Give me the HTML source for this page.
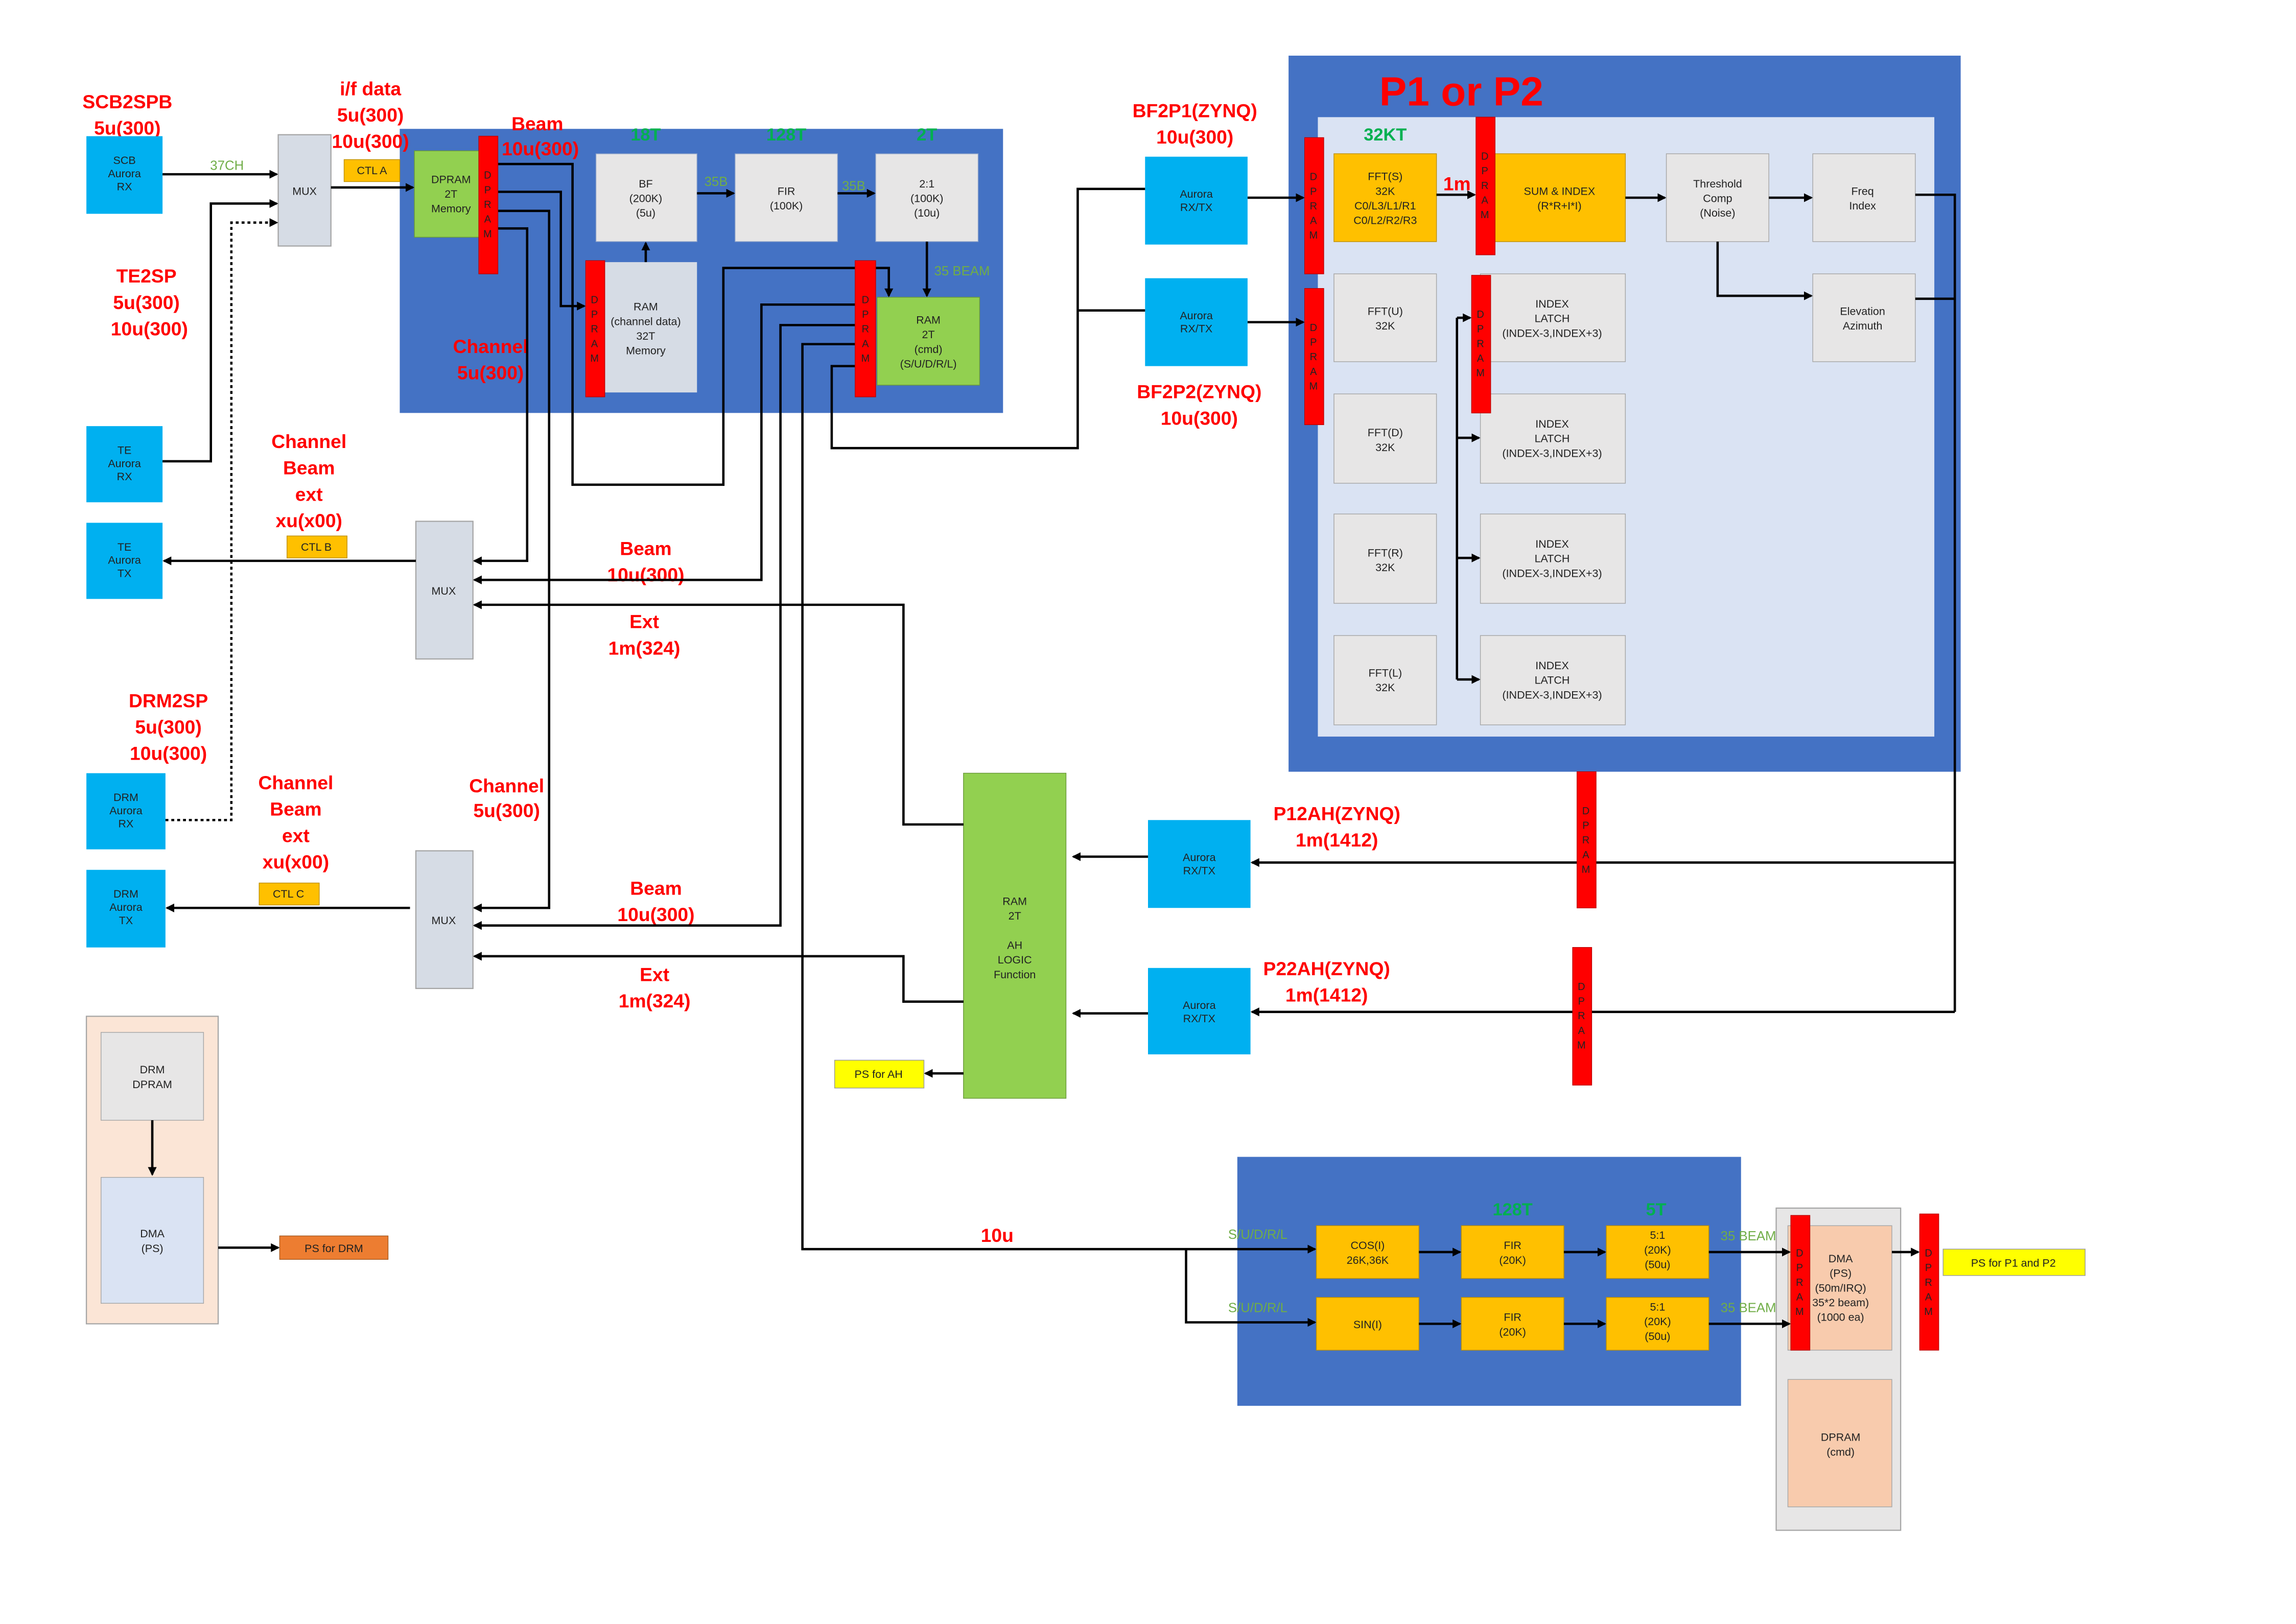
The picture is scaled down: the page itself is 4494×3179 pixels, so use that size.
<!DOCTYPE html>
<html><head><meta charset="utf-8"><style>
html,body{margin:0;padding:0;background:#fff}
svg{display:block}
text{font-family:"Liberation Sans","Noto Sans CJK KR",sans-serif}
.r{fill:#ff0000;font-weight:bold;font-size:13px;text-anchor:middle}
.g{fill:#00b050;font-weight:bold;font-size:12px;text-anchor:middle}
.g2{fill:#70ad47;font-size:9px;text-anchor:middle}
.s{font-size:7.5px;text-anchor:middle;fill:#222}
.ln{stroke:#000;stroke-width:1.6;fill:none}
</style></head><body>
<svg width="4494" height="3179" viewBox="0 0 1568 1109" preserveAspectRatio="none" xmlns="http://www.w3.org/2000/svg">
<defs><marker id="a" markerWidth="6" markerHeight="6" refX="5" refY="3" orient="auto" markerUnits="userSpaceOnUse"><path d="M0,0 L6,3 L0,6z" fill="#000"/></marker></defs>
<rect width="1568" height="1109" fill="#fff"/>

<rect x="273" y="88" width="412" height="194" fill="#4472c4"/>
<rect x="880" y="38" width="459" height="489" fill="#4472c4"/>
<rect x="900" y="80" width="421" height="423" fill="#dae3f3"/>
<rect x="845" y="790" width="344" height="170" fill="#4472c4"/>

<text class="r" x="87" y="74">SCB2SPB</text><text class="r" x="87" y="92">5u(300)</text>
<text class="r" x="253" y="65">i/f data</text><text class="r" x="253" y="83">5u(300)</text><text class="r" x="253" y="101">10u(300)</text>
<text class="r" x="367" y="89">Beam</text><text class="r" x="369" y="106">10u(300)</text>
<text class="r" x="100" y="193">TE2SP</text><text class="r" x="100" y="211">5u(300)</text><text class="r" x="102" y="229">10u(300)</text>
<text class="r" x="335" y="241">Channel</text><text class="r" x="335" y="259">5u(300)</text>
<text class="r" x="211" y="306">Channel</text><text class="r" x="211" y="324">Beam</text><text class="r" x="211" y="342">ext</text><text class="r" x="211" y="360">xu(x00)</text>
<text class="r" x="441" y="379">Beam</text><text class="r" x="441" y="397">10u(300)</text>
<text class="r" x="440" y="429">Ext</text><text class="r" x="440" y="447">1m(324)</text>
<text class="r" x="115" y="483">DRM2SP</text><text class="r" x="115" y="501">5u(300)</text><text class="r" x="115" y="519">10u(300)</text>
<text class="r" x="202" y="539">Channel</text><text class="r" x="202" y="557">Beam</text><text class="r" x="202" y="575">ext</text><text class="r" x="202" y="593">xu(x00)</text>
<text class="r" x="346" y="541">Channel</text><text class="r" x="346" y="558">5u(300)</text>
<text class="r" x="448" y="611">Beam</text><text class="r" x="448" y="629">10u(300)</text>
<text class="r" x="447" y="670">Ext</text><text class="r" x="447" y="688">1m(324)</text>
<text class="r" x="681" y="848">10u</text>
<text class="r" x="816" y="80">BF2P1(ZYNQ)</text><text class="r" x="816" y="98">10u(300)</text>
<text class="r" x="819" y="272">BF2P2(ZYNQ)</text><text class="r" x="819" y="290">10u(300)</text>
<text class="r" x="913" y="560">P12AH(ZYNQ)</text><text class="r" x="913" y="578">1m(1412)</text>
<text class="r" x="906" y="666">P22AH(ZYNQ)</text><text class="r" x="906" y="684">1m(1412)</text>
<text class="r" x="998" y="72" style="font-size:28px">P1 or P2</text>
<text class="r" x="995" y="130">1m</text>

<text class="g" x="441" y="96">18T</text><text class="g" x="537" y="96">128T</text><text class="g" x="633" y="96">2T</text>
<text class="g" x="946" y="96">32KT</text>
<text class="g" x="1033" y="830">128T</text><text class="g" x="1131" y="830">5T</text>
<text class="g2" x="155" y="116">37CH</text>
<text class="g2" x="489" y="127">35B</text><text class="g2" x="583" y="130">35B</text>
<text class="g2" x="657" y="188">35 BEAM</text>
<text class="g2" x="859" y="846">S/U/D/R/L</text><text class="g2" x="859" y="896">S/U/D/R/L</text>
<text class="g2" x="1194" y="847">35 BEAM</text><text class="g2" x="1194" y="896">35 BEAM</text>

<g fill="#00b0f0">
<rect x="59" y="93" width="52" height="53"/><rect x="59" y="291" width="52" height="52"/><rect x="59" y="357" width="52" height="52"/>
<rect x="59" y="528" width="54" height="52"/><rect x="59" y="594" width="54" height="53"/>
<rect x="782" y="107" width="70" height="60"/><rect x="782" y="190" width="70" height="60"/>
<rect x="784" y="560" width="70" height="60"/><rect x="784" y="661" width="70" height="59"/>
</g>
<text class="s"><tspan x="85" y="112">SCB</tspan><tspan x="85" y="121">Aurora</tspan><tspan x="85" y="130">RX</tspan></text>
<text class="s"><tspan x="85" y="310">TE</tspan><tspan x="85" y="319">Aurora</tspan><tspan x="85" y="328">RX</tspan></text>
<text class="s"><tspan x="85" y="376">TE</tspan><tspan x="85" y="385">Aurora</tspan><tspan x="85" y="394">TX</tspan></text>
<text class="s"><tspan x="86" y="547">DRM</tspan><tspan x="86" y="556">Aurora</tspan><tspan x="86" y="565">RX</tspan></text>
<text class="s"><tspan x="86" y="613">DRM</tspan><tspan x="86" y="622">Aurora</tspan><tspan x="86" y="631">TX</tspan></text>
<text class="s"><tspan x="817" y="135">Aurora</tspan><tspan x="817" y="144">RX/TX</tspan></text>
<text class="s"><tspan x="817" y="218">Aurora</tspan><tspan x="817" y="227">RX/TX</tspan></text>
<text class="s"><tspan x="819" y="588">Aurora</tspan><tspan x="819" y="597">RX/TX</tspan></text>
<text class="s"><tspan x="819" y="689">Aurora</tspan><tspan x="819" y="698">RX/TX</tspan></text>

<g fill="#d6dce5" stroke="#a6a6a6" stroke-width="0.8">
<rect x="190" y="92" width="36" height="76"/><rect x="284" y="356" width="39" height="94"/><rect x="284" y="581" width="39" height="94"/>
</g>
<text class="s" x="208" y="133">MUX</text><text class="s" x="303" y="406">MUX</text><text class="s" x="303" y="631">MUX</text>

<g fill="#ffc000" stroke="#bf9000" stroke-width="0.5">
<rect x="235" y="109" width="38" height="15"/><rect x="196" y="366" width="41" height="15"/><rect x="177" y="603" width="41" height="15"/>
</g>
<text class="s" x="254" y="119">CTL A</text><text class="s" x="216" y="376">CTL B</text><text class="s" x="197" y="613">CTL C</text>

<rect x="283" y="103" width="44" height="59" fill="#92d050" stroke="#6a9a3a" stroke-width="0.5"/>
<text class="s"><tspan x="308" y="125">DPRAM</tspan><tspan x="308" y="135">2T</tspan><tspan x="308" y="145">Memory</tspan></text>
<g fill="#e7e6e6" stroke="#8aa0c8" stroke-width="0.5">
<rect x="407" y="105" width="69" height="60"/><rect x="502" y="105" width="70" height="60"/><rect x="598" y="105" width="70" height="60"/>
</g>
<text class="s"><tspan x="441" y="128">BF</tspan><tspan x="441" y="138">(200K)</tspan><tspan x="441" y="148">(5u)</tspan></text>
<text class="s"><tspan x="537" y="133">FIR</tspan><tspan x="537" y="143">(100K)</tspan></text>
<text class="s"><tspan x="633" y="128">2:1</tspan><tspan x="633" y="138">(100K)</tspan><tspan x="633" y="148">(10u)</tspan></text>
<rect x="413" y="179" width="63" height="89" fill="#d6dce5"/>
<text class="s"><tspan x="441" y="212">RAM</tspan><tspan x="441" y="222">(channel data)</tspan><tspan x="441" y="232">32T</tspan><tspan x="441" y="242">Memory</tspan></text>
<rect x="599" y="203" width="70" height="60" fill="#92d050" stroke="#6a9a3a" stroke-width="0.5"/>
<text class="s"><tspan x="634" y="221">RAM</tspan><tspan x="634" y="231">2T</tspan><tspan x="634" y="241">(cmd)</tspan><tspan x="634" y="251">(S/U/D/R/L)</tspan></text>

<g fill="#ffc000" stroke="#bf9000" stroke-width="0.5">
<rect x="911" y="105" width="70" height="60"/><rect x="1021" y="105" width="89" height="60"/>
<rect x="899" y="837" width="70" height="36"/><rect x="998" y="837" width="70" height="36"/><rect x="1097" y="837" width="70" height="36"/>
<rect x="899" y="886" width="70" height="36"/><rect x="998" y="886" width="70" height="36"/><rect x="1097" y="886" width="70" height="36"/>
</g>
<text class="s"><tspan x="946" y="123">FFT(S)</tspan><tspan x="946" y="133">32K</tspan><tspan x="946" y="143">C0/L3/L1/R1</tspan><tspan x="946" y="153">C0/L2/R2/R3</tspan></text>
<text class="s"><tspan x="1065" y="133">SUM &amp; INDEX</tspan><tspan x="1065" y="143">(R*R+I*I)</tspan></text>
<g fill="#e7e6e6" stroke="#a6a6a6" stroke-width="0.5">
<rect x="1138" y="105" width="70" height="60"/><rect x="1238" y="105" width="70" height="60"/><rect x="1238" y="187" width="70" height="60"/>
<rect x="911" y="187" width="70" height="60"/><rect x="911" y="269" width="70" height="61"/><rect x="911" y="351" width="70" height="61"/><rect x="911" y="434" width="70" height="61"/>
<rect x="1011" y="187" width="99" height="60"/><rect x="1011" y="269" width="99" height="61"/><rect x="1011" y="351" width="99" height="61"/><rect x="1011" y="434" width="99" height="61"/>
</g>
<text class="s"><tspan x="1173" y="128">Threshold</tspan><tspan x="1173" y="138">Comp</tspan><tspan x="1173" y="148">(Noise)</tspan></text>
<text class="s"><tspan x="1272" y="133">Freq</tspan><tspan x="1272" y="143">Index</tspan></text>
<text class="s"><tspan x="1272" y="215">Elevation</tspan><tspan x="1272" y="225">Azimuth</tspan></text>
<text class="s"><tspan x="946" y="215">FFT(U)</tspan><tspan x="946" y="225">32K</tspan></text>
<text class="s"><tspan x="946" y="298">FFT(D)</tspan><tspan x="946" y="308">32K</tspan></text>
<text class="s"><tspan x="946" y="380">FFT(R)</tspan><tspan x="946" y="390">32K</tspan></text>
<text class="s"><tspan x="946" y="462">FFT(L)</tspan><tspan x="946" y="472">32K</tspan></text>
<g class="s">
<text><tspan x="1060" y="210">INDEX</tspan><tspan x="1060" y="220">LATCH</tspan><tspan x="1060" y="230">(INDEX-3,INDEX+3)</tspan></text>
<text><tspan x="1060" y="292">INDEX</tspan><tspan x="1060" y="302">LATCH</tspan><tspan x="1060" y="312">(INDEX-3,INDEX+3)</tspan></text>
<text><tspan x="1060" y="374">INDEX</tspan><tspan x="1060" y="384">LATCH</tspan><tspan x="1060" y="394">(INDEX-3,INDEX+3)</tspan></text>
<text><tspan x="1060" y="457">INDEX</tspan><tspan x="1060" y="467">LATCH</tspan><tspan x="1060" y="477">(INDEX-3,INDEX+3)</tspan></text>
</g>

<rect x="658" y="528" width="70" height="222" fill="#92d050" stroke="#6a9a3a" stroke-width="0.5"/>
<text class="s"><tspan x="693" y="618">RAM</tspan><tspan x="693" y="628">2T</tspan><tspan x="693" y="648">AH</tspan><tspan x="693" y="658">LOGIC</tspan><tspan x="693" y="668">Function</tspan></text>
<rect x="570" y="724" width="61" height="19" fill="#ffff00" stroke="#999" stroke-width="0.5"/>
<text class="s" x="600" y="736">PS for AH</text>

<rect x="59" y="694" width="90" height="210" fill="#fbe5d6" stroke="#a6a6a6" stroke-width="0.8"/>
<rect x="69" y="705" width="70" height="60" fill="#e7e6e6" stroke="#a6a6a6" stroke-width="0.5"/>
<text class="s"><tspan x="104" y="733">DRM</tspan><tspan x="104" y="743">DPRAM</tspan></text>
<rect x="69" y="804" width="70" height="86" fill="#dae3f3" stroke="#a6a6a6" stroke-width="0.5"/>
<text class="s"><tspan x="104" y="845">DMA</tspan><tspan x="104" y="855">(PS)</tspan></text>
<rect x="191" y="844" width="74" height="16" fill="#ed7d31" stroke="#a65a20" stroke-width="0.5"/>
<text class="s" x="228" y="855">PS for DRM</text>

<rect x="1213" y="825" width="85" height="220" fill="#e7e6e6" stroke="#a6a6a6" stroke-width="0.8"/>
<rect x="1221" y="837" width="71" height="85" fill="#f8cbad" stroke="#a6a6a6" stroke-width="0.5"/>
<rect x="1221" y="942" width="71" height="87" fill="#f8cbad" stroke="#a6a6a6" stroke-width="0.5"/>
<text class="s"><tspan x="1257" y="862">DMA</tspan><tspan x="1257" y="872">(PS)</tspan><tspan x="1257" y="882">(50m/IRQ)</tspan><tspan x="1257" y="892">35*2 beam)</tspan><tspan x="1257" y="902">(1000 ea)</tspan></text>
<text class="s"><tspan x="1257" y="984">DPRAM</tspan><tspan x="1257" y="994">(cmd)</tspan></text>
<rect x="1327" y="853" width="97" height="18" fill="#ffff00" stroke="#999" stroke-width="0.5"/>
<text class="s" x="1375" y="865">PS for P1 and P2</text>
<text class="s"><tspan x="934" y="853">COS(I)</tspan><tspan x="934" y="863">26K,36K</tspan></text>
<text class="s"><tspan x="1033" y="853">FIR</tspan><tspan x="1033" y="863">(20K)</tspan></text>
<text class="s"><tspan x="1132" y="846">5:1</tspan><tspan x="1132" y="856">(20K)</tspan><tspan x="1132" y="866">(50u)</tspan></text>
<text class="s" x="934" y="907">SIN(I)</text>
<text class="s"><tspan x="1033" y="902">FIR</tspan><tspan x="1033" y="912">(20K)</tspan></text>
<text class="s"><tspan x="1132" y="895">5:1</tspan><tspan x="1132" y="905">(20K)</tspan><tspan x="1132" y="915">(50u)</tspan></text>

<g class="ln">
<path d="M111,119H189" marker-end="url(#a)"/>
<path d="M111,315H144V139H189" marker-end="url(#a)"/>
<path d="M113,560H158V152H189" stroke-dasharray="2,2" marker-end="url(#a)"/>
<path d="M226,128H282" marker-end="url(#a)"/>
<path d="M340,112H391V331H494V183H607V202" marker-end="url(#a)"/>
<path d="M340,131H383V209H399" marker-end="url(#a)"/>
<path d="M340,144H375V620H324" marker-end="url(#a)"/>
<path d="M340,156H360V383H324" marker-end="url(#a)"/>
<path d="M441,179V166" marker-end="url(#a)"/>
<path d="M476,132H501" marker-end="url(#a)"/>
<path d="M572,132H597" marker-end="url(#a)"/>
<path d="M633,165V202" marker-end="url(#a)"/>
<path d="M584,208H520V396H324" marker-end="url(#a)"/>
<path d="M584,222H533V632H324" marker-end="url(#a)"/>
<path d="M584,235H548V853H898" marker-end="url(#a)"/>
<path d="M584,250H568V306H736V129H782"/>
<path d="M736,212H782"/>
<path d="M284,383H112" marker-end="url(#a)"/>
<path d="M280,620H114" marker-end="url(#a)"/>
<path d="M658,563H617V413H324" marker-end="url(#a)"/>
<path d="M658,684H617V653H324" marker-end="url(#a)"/>
<path d="M658,733H632" marker-end="url(#a)"/>
<path d="M784,585H733" marker-end="url(#a)"/>
<path d="M784,692H733" marker-end="url(#a)"/>
<path d="M1335,589H855" marker-end="url(#a)"/>
<path d="M1335,691H855" marker-end="url(#a)"/>
<path d="M1308,133H1335V691"/>
<path d="M1308,204H1335"/>
<path d="M852,135H890" marker-end="url(#a)"/>
<path d="M852,220H890" marker-end="url(#a)"/>
<path d="M981,133H1007" marker-end="url(#a)"/>
<path d="M1110,135H1137" marker-end="url(#a)"/>
<path d="M1208,135H1237" marker-end="url(#a)"/>
<path d="M1173,165V202H1237" marker-end="url(#a)"/>
<path d="M995,217V464"/>
<path d="M995,217H1004" marker-end="url(#a)"/>
<path d="M995,299H1010" marker-end="url(#a)"/>
<path d="M995,381H1010" marker-end="url(#a)"/>
<path d="M995,464H1010" marker-end="url(#a)"/>
<path d="M810,853V903H898" marker-end="url(#a)"/>
<path d="M969,855H997" marker-end="url(#a)"/>
<path d="M1068,855H1096" marker-end="url(#a)"/>
<path d="M1167,855H1222" marker-end="url(#a)"/>
<path d="M969,904H997" marker-end="url(#a)"/>
<path d="M1068,904H1096" marker-end="url(#a)"/>
<path d="M1167,904H1222" marker-end="url(#a)"/>
<path d="M1292,855H1310" marker-end="url(#a)"/>
<path d="M104,765V802" marker-end="url(#a)"/>
<path d="M149,852H190" marker-end="url(#a)"/>
</g>

<g fill="#ff0000" stroke="#c00000" stroke-width="0.5">
<rect x="327" y="93" width="13" height="94"/><rect x="400" y="178" width="13" height="93"/><rect x="584" y="178" width="14" height="93"/>
<rect x="891" y="94" width="13" height="93"/><rect x="891" y="197" width="13" height="93"/>
<rect x="1008" y="80" width="13" height="94"/><rect x="1005" y="188" width="13" height="94"/>
<rect x="1077" y="527" width="13" height="93"/><rect x="1074" y="647" width="13" height="94"/>
<rect x="1223" y="830" width="13" height="92"/><rect x="1311" y="829" width="13" height="93"/>
</g>
<g class="s" style="font-size:7px">
<text><tspan x="333" y="122">D</tspan><tspan x="333" y="132">P</tspan><tspan x="333" y="142">R</tspan><tspan x="333" y="152">A</tspan><tspan x="333" y="162">M</tspan></text>
<text><tspan x="406" y="207">D</tspan><tspan x="406" y="217">P</tspan><tspan x="406" y="227">R</tspan><tspan x="406" y="237">A</tspan><tspan x="406" y="247">M</tspan></text>
<text><tspan x="591" y="207">D</tspan><tspan x="591" y="217">P</tspan><tspan x="591" y="227">R</tspan><tspan x="591" y="237">A</tspan><tspan x="591" y="247">M</tspan></text>
<text><tspan x="897" y="123">D</tspan><tspan x="897" y="133">P</tspan><tspan x="897" y="143">R</tspan><tspan x="897" y="153">A</tspan><tspan x="897" y="163">M</tspan></text>
<text><tspan x="897" y="226">D</tspan><tspan x="897" y="236">P</tspan><tspan x="897" y="246">R</tspan><tspan x="897" y="256">A</tspan><tspan x="897" y="266">M</tspan></text>
<text><tspan x="1014" y="109">D</tspan><tspan x="1014" y="119">P</tspan><tspan x="1014" y="129">R</tspan><tspan x="1014" y="139">A</tspan><tspan x="1014" y="149">M</tspan></text>
<text><tspan x="1011" y="217">D</tspan><tspan x="1011" y="227">P</tspan><tspan x="1011" y="237">R</tspan><tspan x="1011" y="247">A</tspan><tspan x="1011" y="257">M</tspan></text>
<text><tspan x="1083" y="556">D</tspan><tspan x="1083" y="566">P</tspan><tspan x="1083" y="576">R</tspan><tspan x="1083" y="586">A</tspan><tspan x="1083" y="596">M</tspan></text>
<text><tspan x="1080" y="676">D</tspan><tspan x="1080" y="686">P</tspan><tspan x="1080" y="696">R</tspan><tspan x="1080" y="706">A</tspan><tspan x="1080" y="716">M</tspan></text>
<text><tspan x="1229" y="858">D</tspan><tspan x="1229" y="868">P</tspan><tspan x="1229" y="878">R</tspan><tspan x="1229" y="888">A</tspan><tspan x="1229" y="898">M</tspan></text>
<text><tspan x="1317" y="858">D</tspan><tspan x="1317" y="868">P</tspan><tspan x="1317" y="878">R</tspan><tspan x="1317" y="888">A</tspan><tspan x="1317" y="898">M</tspan></text>
</g>
</svg>
</body></html>
